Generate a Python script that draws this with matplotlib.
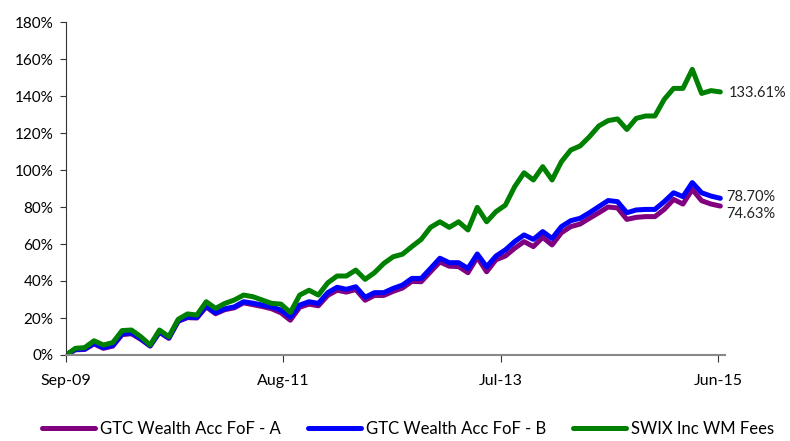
import numpy as np
import matplotlib
matplotlib.use("Agg")
import matplotlib.pyplot as plt

plt.rcParams['font.family'] = ['Lato', 'DejaVu Sans']

# cumulative return (%) per month, Sep-09 onwards
fof_a = [0, 2.8, 3, 6, 3.6, 4.8, 11, 11.5, 8.5, 4.8,
         12.3, 9, 18.2, 20.2, 20, 26, 22.3, 24.5, 25.5, 28.2,
         27.2, 26.2, 25, 22.8, 18.8, 25.8, 27.5, 26.6, 32.2, 35,
         34, 35.4, 29.6, 32.2, 32.2, 34.4, 36.2, 39.8, 39.6, 45,
         50.3, 48, 47.8, 44.5, 52.8, 45, 51.5, 53.5, 57.7, 61.3,
         58.6, 63.6, 59.5, 66.1, 69.4, 70.8, 73.9, 76.9, 80, 79.5,
         73.3, 74.4, 74.8, 74.8, 78.7, 84.1, 81.6, 89.5, 83.4, 81.6,
         80.5]
fof_b = [0, 3, 3.2, 6.3, 4, 5.2, 11.5, 12, 8.8, 5,
         12.5, 9.3, 18.5, 20.5, 20.3, 26.5, 22.8, 25, 26, 28.8,
         28, 27, 26, 24.3, 20.5, 27, 28.8, 27.9, 33.7, 36.6,
         35.5, 36.9, 31.2, 33.7, 33.7, 36, 37.8, 41.4, 41.4, 46.8,
         52.3, 49.9, 49.9, 46.8, 54.6, 47.7, 53.5, 56.8, 61.3, 64.9,
         62.5, 66.7, 63, 69.4, 72.6, 73.9, 76.9, 80.2, 83.5, 82.9,
         76.9, 78.4, 78.7, 78.7, 82.9, 87.7, 85.6, 93.2, 87.7, 85.9,
         84.7]
swix = [0, 3.6, 4, 7.7, 5.4, 6.7, 13.2, 13.5, 9.9, 5.4,
        13.5, 9.9, 19.3, 22.2, 21.6, 28.8, 25.2, 27.9, 29.7, 32.4,
        31.5, 29.7, 27.9, 27.5, 23, 32.4, 35, 32.4, 39, 42.7,
        42.7, 45.9, 40.9, 44.5, 49.5, 53.1, 54.5, 58.6, 62.5, 69,
        72, 69, 72, 67.6, 79.8, 72, 77.5, 81, 91, 98.5,
        94.6, 101.8, 94.6, 104.5, 110.8, 113, 118, 123.8, 126.7, 127.6,
        121.9, 127.9, 129.2, 129.2, 138.2, 144.1, 144.1, 154.4, 141.4, 142.9,
        142.2]

names = ['GTC Wealth Acc FoF - A', 'GTC Wealth Acc FoF - B', 'SWIX Inc WM Fees']
end_labels = ['74.63%', '78.70%', '133.61%']
colors = ['#800080', '#0000ff', '#008000']
tick_labels = ['Sep-09', 'Aug-11', 'Jul-13', 'Jun-15']
tick_pos = [0, 23.25, 46.5, 69.75]

x = np.arange(len(swix))

fig = plt.figure(figsize=(7.9, 4.41), dpi=100)
ax = fig.add_axes([66/790, 1 - 355/441, (725-66)/790, (355-22)/441])

series = [fof_a, fof_b, swix]
for vals, name, col in zip(series, names, colors):
    ax.plot(x, vals, color=col, lw=3.6, label=name, solid_capstyle='round')

offsets = [(4, -6), (4, 1), (6, -1)]
for vals, lab, off in zip(series, end_labels, offsets):
    ax.annotate(lab, xy=(x[-1], vals[-1]), xytext=off, textcoords='offset points',
                va='center', ha='left', fontsize=10.5, color='#222222',
                annotation_clip=False)

ax.set_xlim(0, 70.5)
ax.set_ylim(0, 180)
ax.set_yticks(np.arange(0, 181, 20))
ax.set_yticklabels([f'{v}%' for v in range(0, 181, 20)])
ax.set_xticks(tick_pos)
ax.set_xticklabels(tick_labels)

for s in ['top', 'right']:
    ax.spines[s].set_visible(False)
ax.spines['left'].set_color('#333333')
ax.spines['left'].set_linewidth(0.8)
ax.spines['bottom'].set_color('#888888')
ax.spines['bottom'].set_linewidth(1.5)
ax.tick_params(axis='y', length=4, width=0.8, color='#333333', labelsize=11, pad=5)
ax.tick_params(axis='x', length=5, width=0.8, color='#333333', labelsize=11.5, pad=9)

fig.legend(*ax.get_legend_handles_labels(), loc='center',
           bbox_to_anchor=(408/790, 1 - 429/441), ncol=3, frameon=False,
           fontsize=12, handlelength=3.2, columnspacing=1.6, handletextpad=0.3,
           borderaxespad=0, borderpad=0)

fig.savefig('out.png', dpi=100)
